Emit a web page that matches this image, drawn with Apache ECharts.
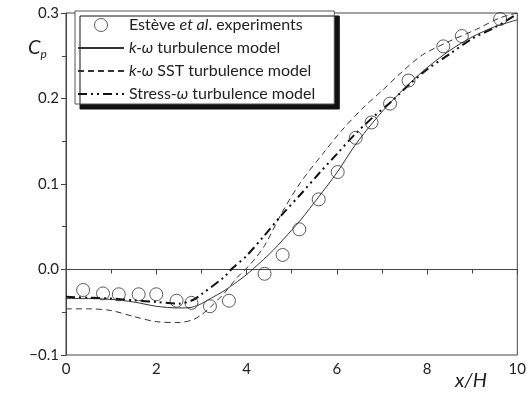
<!DOCTYPE html>
<html><head><meta charset="utf-8">
<script src="https://cdn.jsdelivr.net/npm/echarts@6/dist/echarts.min.js"></script>
<style>html,body{margin:0;padding:0;background:#fff}#c{width:529px;height:396px}</style>
</head><body><div id="c"></div>
<script>
// Experimental data (Estève et al.)
const expX = [0.38,0.82,1.17,1.61,2.00,2.45,2.78,3.19,3.61,4.40,4.80,5.17,5.60,6.02,6.42,6.77,7.18,7.59,8.36,8.77,9.62];
const expY = [-0.024,-0.028,-0.029,-0.029,-0.029,-0.0365,-0.039,-0.043,-0.0365,-0.005,0.017,0.047,0.082,0.114,0.154,0.172,0.194,0.221,0.261,0.273,0.293];
// k-omega model
const kwX = [0,0.5,1.0,1.5,2.0,2.5,2.8,3.0,3.2,3.5,3.8,4.0,4.3,4.6,5.0,5.2,5.6,6.0,6.4,6.8,7.2,7.6,8.0,8.5,9.0,9.5,9.8,10];
const kwY = [-0.034,-0.034,-0.035,-0.038,-0.043,-0.045,-0.044,-0.040,-0.034,-0.025,-0.014,-0.006,0.008,0.023,0.046,0.058,0.085,0.113,0.145,0.172,0.196,0.217,0.236,0.256,0.272,0.284,0.289,0.292];
// k-omega SST model
const sstX = [0,0.5,1.0,1.5,2.0,2.5,2.8,3.0,3.2,3.5,3.8,4.1,4.4,4.8,5.2,5.7,6.1,6.6,7.0,7.4,7.9,8.5,9.1,9.6,10];
const sstY = [-0.046,-0.046,-0.048,-0.055,-0.061,-0.062,-0.059,-0.053,-0.044,-0.028,-0.009,0.007,0.028,0.068,0.102,0.136,0.162,0.190,0.209,0.229,0.251,0.267,0.281,0.294,0.300];
// Stress-omega model
const swX = [0,0.5,1.0,1.5,2.0,2.5,2.8,3.0,3.5,3.7,4.0,4.4,4.8,5.2,5.6,6.0,6.4,6.8,7.2,7.6,8.0,8.5,9.0,9.5,10];
const swY = [-0.032,-0.033,-0.034,-0.036,-0.038,-0.040,-0.036,-0.029,-0.009,0.002,0.016,0.040,0.065,0.088,0.112,0.135,0.158,0.178,0.196,0.216,0.234,0.252,0.270,0.283,0.299];

const names = ['exp','kw','sst','sw'];
const legendText = {
  exp: 'Estève {i|et al}. experiments',
  kw: '{i|k-ω} turbulence model',
  sst: '{i|k-ω} SST turbulence model',
  sw: 'Stress-{i|ω} turbulence model'
};
const zip = (xs, ys) => xs.map((x, i) => [x, ys[i]]);
const FONT = 'Lato, "Noto Sans", sans-serif';
const TXT = '#222';

const chart = echarts.init(document.getElementById('c'), null, {renderer: 'canvas'});
chart.setOption({
  animation: false,
  backgroundColor: '#fff',
  grid: {left: 66, right: 10, top: 13, bottom: 41, show: true, borderColor: '#444', borderWidth: 1, containLabel: false},
  xAxis: {
    type: 'value', min: 0, max: 10, interval: 2,
    axisLine: {lineStyle: {color: '#444', width: 1}},
    axisTick: {length: 5, lineStyle: {color: '#444'}},
    minorTick: {show: true, splitNumber: 2, length: 4, lineStyle: {color: '#444'}},
    splitLine: {show: false},
    axisLabel: {fontFamily: FONT, fontSize: 15, color: TXT, margin: 7}
  },
  yAxis: {
    type: 'value', min: -0.1, max: 0.3, interval: 0.1,
    axisLine: {show: true, lineStyle: {color: '#444', width: 1}},
    axisTick: {show: true, length: 5, lineStyle: {color: '#444'}},
    minorTick: {show: true, splitNumber: 2, length: 4, lineStyle: {color: '#444'}},
    splitLine: {show: false},
    axisLabel: {fontFamily: FONT, fontSize: 15, color: TXT, margin: 7,
      formatter: v => (Math.abs(v) < 1e-9 ? '0.0' : v.toFixed(1).replace('-', '−'))}
  },
  legend: {
    orient: 'vertical', left: 75, top: 11,
    data: [
      {name: 'exp', icon: 'circle', itemStyle: {color: '#fff', borderColor: '#333', borderWidth: 1}},
      {name: 'kw', itemStyle: {opacity: 0}},
      {name: 'sst', itemStyle: {opacity: 0}},
      {name: 'sw', itemStyle: {opacity: 0}}
    ],
    itemWidth: 46, itemHeight: 13, itemGap: 7,
    padding: [6, 19, 2, 2],
    backgroundColor: '#fff', borderColor: '#555', borderWidth: 1,
    shadowColor: '#111', shadowBlur: 0, shadowOffsetX: 5, shadowOffsetY: 5,
    formatter: n => legendText[n],
    textStyle: {fontFamily: FONT, fontSize: 16, color: TXT, lineHeight: 16,
      rich: {i: {fontFamily: FONT, fontSize: 16, fontStyle: 'italic', color: TXT}}}
  },
  graphic: [
    {type: 'text', left: 28, top: 38, style: {
      text: '{c|C}{p|p}', rich: {
        c: {fontFamily: FONT, fontSize: 20, fontStyle: 'italic', fill: TXT},
        p: {fontFamily: FONT, fontSize: 12, fontStyle: 'italic', fill: TXT, padding: [12, 0, 0, 0]}
      }}},
    {type: 'text', left: 455, top: 371, style: {
      text: 'x/H', fontFamily: FONT, fontSize: 20, fontStyle: 'italic', fill: TXT}}
  ],
  series: [
    {name: 'exp', type: 'scatter', data: zip(expX, expY), symbol: 'circle', symbolSize: 13,
      itemStyle: {color: 'rgba(255,255,255,0)', borderColor: '#333', borderWidth: 1}, z: 5},
    {name: 'kw', type: 'line', data: zip(kwX, kwY), smooth: 0.3, symbol: 'none', showSymbol: false,
      lineStyle: {color: '#333', width: 1, type: 'solid'}, itemStyle: {color: '#333'}},
    {name: 'sst', type: 'line', data: zip(sstX, sstY), smooth: 0.3, symbol: 'none', showSymbol: false,
      lineStyle: {color: '#333', width: 1, type: [6, 4]}, itemStyle: {color: '#333'}},
    {name: 'sw', type: 'line', data: zip(swX, swY), smooth: 0.3, symbol: 'none', showSymbol: false,
      lineStyle: {color: '#111', width: 2, type: [9, 4, 2, 4, 2, 4]}, itemStyle: {color: '#111'}}
  ]
});
</script></body></html>
